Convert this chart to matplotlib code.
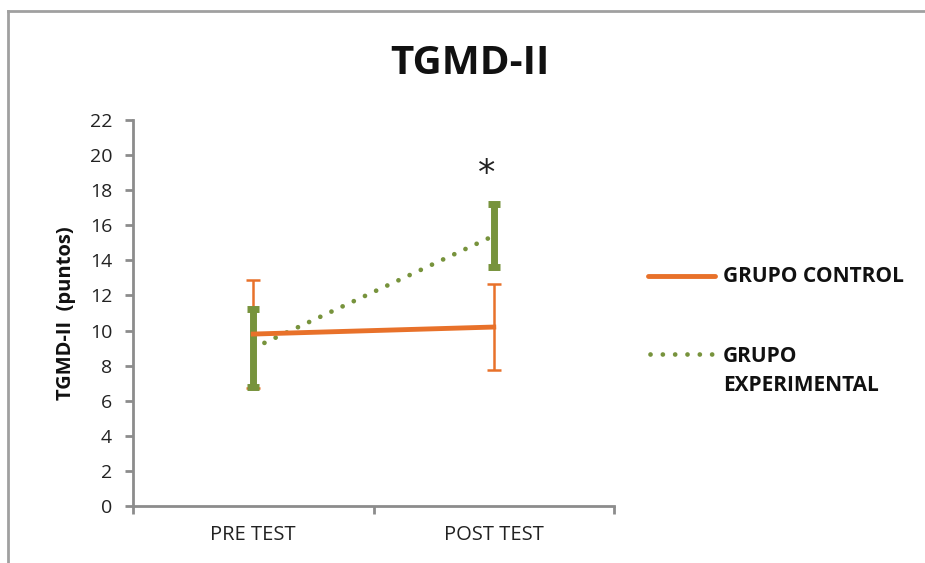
import matplotlib.pyplot as plt
from matplotlib.lines import Line2D

plt.rcParams['font.family'] = ['Open Sans', 'DejaVu Sans']

categories = ["PRE TEST", "POST TEST"]
control_mean = [9.8, 10.2]
control_err = [3.1, 2.45]
exp_mean = [9.0, 15.4]
exp_err = [2.2, 1.8]
y_ticks = list(range(0, 23, 2))

ORANGE = "#e8712a"
GREEN = "#77933c"
AXIS_GRAY = "#8c8c8c"
DOTS = (0, (0.01, 2.6))

fig = plt.figure(figsize=(9.25, 5.63), dpi=100)
ax = fig.add_axes([0.1438, 0.1012, 0.52, 0.6857])

x = list(range(len(categories)))

# control group: solid line with thin error bars
line_c, caps_c, bars_c = ax.errorbar(x, control_mean, yerr=control_err,
                                     color=ORANGE, lw=3.5, elinewidth=1.8,
                                     capsize=5, capthick=1.8,
                                     label="GRUPO CONTROL")
# experimental group: dotted line with thick error bars
line_e, caps_e, bars_e = ax.errorbar(x, exp_mean, yerr=exp_err, color=GREEN,
                                     lw=3.4, ls=DOTS, dash_capstyle='round',
                                     elinewidth=5, capsize=4, capthick=5,
                                     label="GRUPO\nEXPERIMENTAL")
line_e.set_zorder(2)
for c in caps_c:
    c.set_zorder(3)
for b in bars_c:
    b.set_zorder(3)
for c in caps_e:
    c.set_zorder(4)
for b in bars_e:
    b.set_zorder(4)
line_c.set_zorder(5)

# significance mark
ax.text(0.97, exp_mean[1] + exp_err[1] + 1.7, "*", ha='center', va='center',
        fontsize=25, color='#222222', family=['DejaVu Sans'])

ax.set_xlim(-0.5, 1.5)
ax.set_ylim(0, 22)
ax.set_yticks(y_ticks)
ax.set_xticks(x)
ax.set_xticklabels(categories, fontsize=14.5, color='#222222')
ax.set_xticks([-0.5, 0.5, 1.5], minor=True)
ax.tick_params(axis='x', which='major', length=0, pad=14)
ax.tick_params(axis='x', which='minor', length=6, width=2, color=AXIS_GRAY,
               direction='out')
ax.tick_params(axis='y', length=6, width=2, color=AXIS_GRAY, direction='out',
               labelsize=14, labelcolor='#222222', pad=9)

for side in ['top', 'right']:
    ax.spines[side].set_visible(False)
for side in ['left', 'bottom']:
    ax.spines[side].set_color(AXIS_GRAY)
    ax.spines[side].set_linewidth(2)

ax.set_ylabel("TGMD-II  (puntos)", fontsize=14.5, fontweight='bold',
              labelpad=10, color='#111111')

fig.text(0.508, 0.888, "TGMD-II", ha='center', va='center', fontsize=29,
         fontweight='bold', color='#111111')

# legend built by hand to match the layout
fig.add_artist(Line2D([648 / 925, 715 / 925], [1 - 276 / 563, 1 - 276 / 563],
                      color=ORANGE, lw=3.5, solid_capstyle='round'))
fig.add_artist(Line2D([650 / 925, 715 / 925], [1 - 354 / 563, 1 - 354 / 563],
                      color=GREEN, lw=3.4, ls=DOTS, dash_capstyle='round'))
fig.text(723 / 925, 1 - 276 / 563, "GRUPO CONTROL", ha='left', va='center',
         fontsize=15, fontweight='bold', color='#111111')
fig.text(723 / 925, 1 - 371 / 563, "GRUPO\nEXPERIMENTAL", ha='left',
         va='center', fontsize=15, fontweight='bold', color='#111111',
         linespacing=1.5)

# chart area border (top and left visible)
fig.add_artist(Line2D([8 / 925, 1], [1 - 11 / 563, 1 - 11 / 563],
                      color='#a0a0a0', lw=2))
fig.add_artist(Line2D([8 / 925, 8 / 925], [0, 1 - 11 / 563],
                      color='#a0a0a0', lw=2))

fig.savefig("out.png", dpi=100)
